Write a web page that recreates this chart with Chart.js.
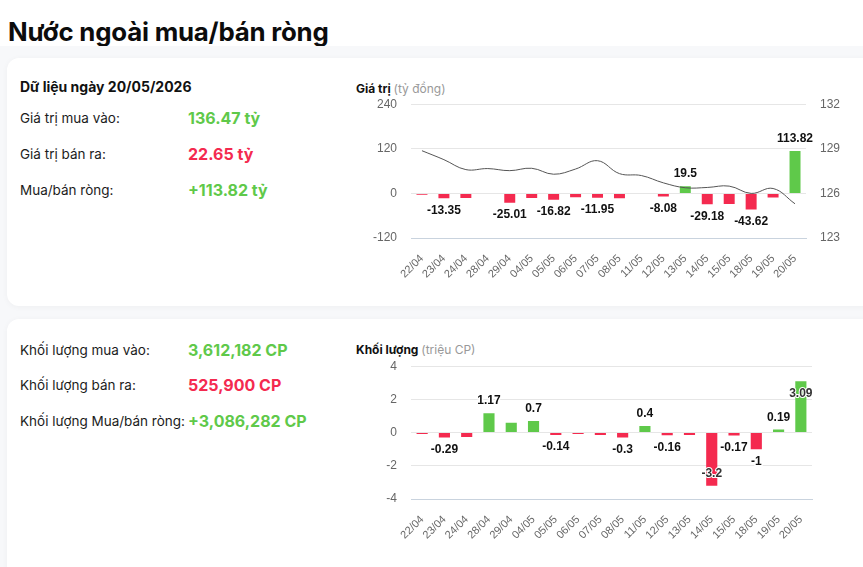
<!DOCTYPE html>
<html>
<head>
<meta charset="utf-8">
<script src="https://cdn.jsdelivr.net/npm/chart.js@4.4.1/dist/chart.umd.min.js"></script>
<style>
  html, body { margin: 0; padding: 0; background: #fff; }
  body { width: 863px; height: 567px; overflow: hidden; position: relative; font-family: Inter, "Noto Sans", sans-serif; color: #1a1a1a; }
  h1 { position: absolute; left: 8px; top: 16px; margin: 0; font-size: 25.8px; font-weight: 700; letter-spacing: -0.2px; color: #0c0c0c; }
  .bg { position: absolute; left: 0; top: 46px; width: 863px; height: 521px; background: #f7f8fa; }
  .card { position: absolute; left: 7px; width: 880px; background: #fff; border-radius: 12px; box-shadow: 0 1px 6px rgba(0,0,0,0.04); }
  .row { position: absolute; left: 20px; font-size: 13.5px; color: #1c1c1c; }
  .val { position: absolute; left: 188px; font-size: 16px; font-weight: 700; }
  .up { color: #5fc94a; }
  .down { color: #f42a4f; }
  .head { position: absolute; left: 20px; font-size: 14px; font-weight: 700; color: #111; }
  .ctitle { position: absolute; left: 356px; font-size: 12px; font-weight: 700; color: #111; }
  .ctitle span { font-weight: 400; color: #999; }
  .box { position: absolute; left: 350px; width: 510px; }
</style>
</head>
<body>
<h1>Nước ngoài mua/bán ròng</h1>
<div class="bg"></div>
<div class="card" style="top:58px;height:248px;"></div>
<div class="card" style="top:319px;height:260px;"></div>

<div class="head" style="top:78px;">Dữ liệu ngày 20/05/2026</div>
<div class="row" style="top:110px;">Giá trị mua vào:</div>
<div class="val up" style="top:108px;">136.47 tỷ</div>
<div class="row" style="top:146px;">Giá trị bán ra:</div>
<div class="val down" style="top:144px;">22.65 tỷ</div>
<div class="row" style="top:182px;">Mua/bán ròng:</div>
<div class="val up" style="top:180px;">+113.82 tỷ</div>

<div class="row" style="top:342px;">Khối lượng mua vào:</div>
<div class="val up" style="top:340px;">3,612,182 CP</div>
<div class="row" style="top:377px;">Khối lượng bán ra:</div>
<div class="val down" style="top:375px;">525,900 CP</div>
<div class="row" style="top:413px;">Khối lượng Mua/bán ròng:</div>
<div class="val up" style="top:411px;">+3,086,282 CP</div>

<div class="ctitle" style="top:81px;">Giá trị <span>(tỷ đồng)</span></div>
<div class="ctitle" style="top:342px;">Khối lượng <span>(triệu CP)</span></div>

<div class="box" style="top:83px;height:213px;"><canvas id="chartValue"></canvas></div>
<div class="box" style="top:345px;height:212px;"><canvas id="chartVolume"></canvas></div>

<script>
const dates = ['22/04', '23/04', '24/04', '28/04', '29/04', '04/05', '05/05', '06/05', '07/05',
               '08/05', '11/05', '12/05', '13/05', '14/05', '15/05', '18/05', '19/05', '20/05'];

// net buy/sell value (ty dong)
const netValue = [-3.5, -13.35, -12.5, 0, -25.01, -12.2, -16.82, -10.5, -11.95,
                  -12.8, 0, -8.08, 19.5, -29.18, -28.5, -43.62, -11.2, 113.82];
// price line (right axis)
const price = [128.87, 128.27, 127.6, 127.67, 127.53, 127.69, 127.29, 127.64, 128.2,
               127.33, 127.2, 126.71, 126.38, 126.4, 126.49, 126.0, 126.33, 125.3];
const valueLabelShown = [false, true, false, false, true, false, true, false, true,
                         false, false, true, true, true, false, true, false, true];

// net buy/sell volume (trieu CP)
const netVolume = [-0.08, -0.29, -0.26, 1.17, 0.6, 0.7, -0.14, -0.08, -0.15,
                   -0.3, 0.4, -0.16, -0.15, -3.2, -0.17, -1, 0.19, 3.09];
const volumeLabelShown = [false, true, false, true, false, true, true, false, false,
                          true, true, true, false, true, true, true, true, true];

const valueTicks = { min: -120, max: 240, step: 120 };
const priceTicks = { min: 123, max: 132, step: 3 };
const volumeTicks = { min: -4, max: 4, step: 2 };

const GREEN = '#5fc94a';
const RED = '#f42a4f';

Chart.defaults.font.family = '"Liberation Sans", Arial, sans-serif';
Chart.defaults.color = '#666';

function barColors(values) {
    return values.map(v => v >= 0 ? GREEN : RED);
}

// draws the value above/below each bar, flipped inside when it would leave the plot
const valueLabels = {
    id: 'valueLabels',
    afterDatasetsDraw(chart, args, opts) {
        const meta = chart.getDatasetMeta(0);
        const values = chart.data.datasets[0].data;
        const area = chart.chartArea;
        const ctx = chart.ctx;
        ctx.save();
        ctx.font = 'bold 12px "Liberation Sans", Arial, sans-serif';
        ctx.textAlign = 'center';
        ctx.textBaseline = 'middle';
        ctx.lineJoin = 'round';
        meta.data.forEach((bar, i) => {
            if (!opts.shown[i]) return;
            const v = values[i];
            let y = v >= 0 ? bar.y - 12 : bar.y + 12;
            let inside = false;
            if (v >= 0 && y - 7 < area.top) { y = bar.y + 12; inside = true; }
            if (v < 0 && y + 7 > area.bottom) { y = bar.y - 12; inside = true; }
            const txt = String(v);
            ctx.lineWidth = inside ? 2 : 3;
            ctx.strokeStyle = '#fff';
            ctx.strokeText(txt, bar.x, y);
            ctx.fillStyle = inside ? '#333' : '#111';
            ctx.fillText(txt, bar.x, y);
        });
        ctx.restore();
    }
};

function xScale() {
    return {
        grid: { display: false },
        border: { color: '#c9d3de' },
        ticks: { minRotation: 45, maxRotation: 45, autoSkip: false, padding: 6, font: { size: 11 }, color: '#666' },
        afterFit: s => { s.height = 58; }
    };
}

const valueCanvas = document.getElementById('chartValue');
if (valueCanvas) {
    new Chart(valueCanvas, {
        data: {
            labels: dates,
            datasets: [{
                type: 'bar',
                data: netValue,
                backgroundColor: barColors(netValue),
                categoryPercentage: 1,
                barPercentage: 0.5,
                yAxisID: 'y',
                order: 1
            }, {
                type: 'line',
                data: price,
                borderColor: '#555',
                borderWidth: 1,
                tension: 0.4,
                pointRadius: 0,
                yAxisID: 'y1',
                order: 0
            }]
        },
        options: {
            responsive: true,
            maintainAspectRatio: false,
            animation: false,
            layout: { padding: { top: 8 } },
            plugins: {
                legend: { display: false },
                tooltip: { enabled: false },
                valueLabels: { shown: valueLabelShown }
            },
            scales: {
                x: xScale(),
                y: {
                    position: 'left',
                    min: valueTicks.min,
                    max: valueTicks.max,
                    grid: { color: '#e6e6e6', drawTicks: false },
                    border: { display: false },
                    ticks: { stepSize: valueTicks.step, padding: 14, font: { size: 12 } },
                    afterFit: s => { s.width = 61; }
                },
                y1: {
                    position: 'right',
                    min: priceTicks.min,
                    max: priceTicks.max,
                    grid: { drawOnChartArea: false, drawTicks: false },
                    border: { display: false },
                    ticks: { stepSize: priceTicks.step, padding: 14, font: { size: 12 } },
                    afterFit: s => { s.width = 54; }
                }
            }
        },
        plugins: [valueLabels]
    });
}

const volumeCanvas = document.getElementById('chartVolume');
if (volumeCanvas) {
    new Chart(volumeCanvas, {
        type: 'bar',
        data: {
            labels: dates,
            datasets: [{
                data: netVolume,
                backgroundColor: barColors(netVolume),
                categoryPercentage: 1,
                barPercentage: 0.5
            }]
        },
        options: {
            responsive: true,
            maintainAspectRatio: false,
            animation: false,
            layout: { padding: { top: 8, right: 48 } },
            plugins: {
                legend: { display: false },
                tooltip: { enabled: false },
                valueLabels: { shown: volumeLabelShown }
            },
            scales: {
                x: xScale(),
                y: {
                    min: volumeTicks.min,
                    max: volumeTicks.max,
                    grid: { color: '#e6e6e6', drawTicks: false },
                    border: { display: false },
                    ticks: { stepSize: volumeTicks.step, padding: 14, font: { size: 12 } },
                    afterFit: s => { s.width = 61; }
                }
            }
        },
        plugins: [valueLabels]
    });
}
</script>
</body>
</html>
